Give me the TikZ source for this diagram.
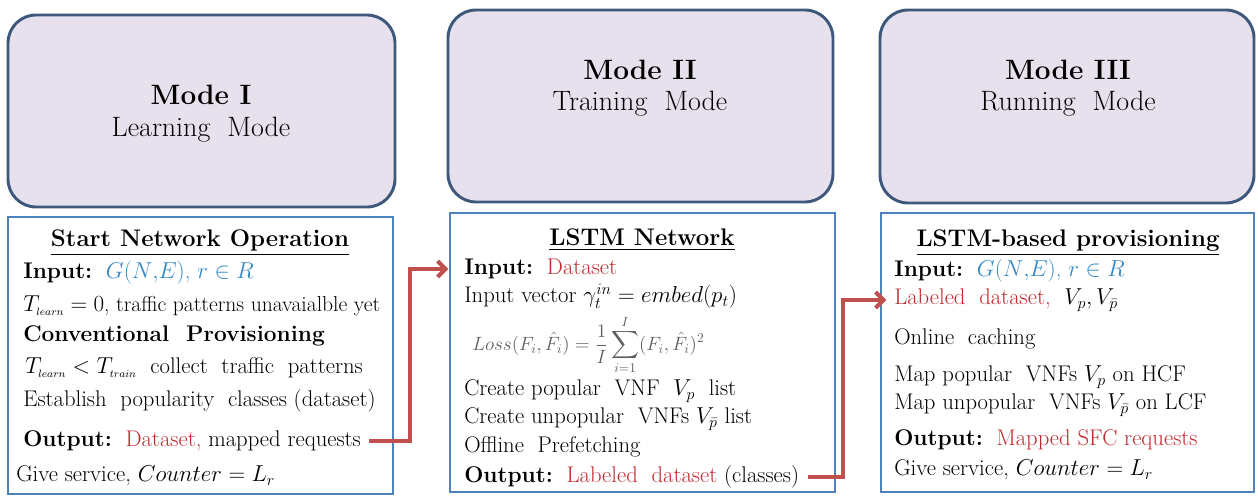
\documentclass[tikz,border=0pt]{standalone}
\usepackage{amsmath}
\usepackage{amssymb}
\usepackage{fontspec}
\usetikzlibrary{arrows.meta}

\definecolor{modefill}{RGB}{230,225,237}
\definecolor{modeline}{RGB}{62,88,124}
\definecolor{boxline}{RGB}{79,129,189}
\definecolor{arrowred}{RGB}{192,80,77}
\definecolor{txtred}{RGB}{192,40,45}
\definecolor{txtblue}{RGB}{52,136,196}
\definecolor{lossgray}{RGB}{95,95,95}

\tikzset{
  modebox/.style={draw=modeline, fill=modefill, line width=2.2pt, rounded corners=21pt},
  stagebox/.style={draw=boxline, line width=2pt},
  txtline/.style={anchor=west, inner sep=0.75pt, font=\fontsize{17}{20}\selectfont},
  heading/.style={inner sep=0.75pt, font=\fontsize{18}{22}\selectfont\bfseries},
  modetitle/.style={inner sep=0.75pt, font=\fontsize{21}{26}\selectfont\bfseries},
  modename/.style={inner sep=0.75pt, font=\fontsize{21}{26}\selectfont},
  feed/.style={draw=arrowred, line width=3pt, -{Straight Barb[length=6pt,width=12pt]}},
}
\newcommand{\tsub}[1]{_{\scriptscriptstyle #1}}

\begin{document}
\begin{tikzpicture}[x=0.75pt,y=0.75pt,yscale=-1,xscale=1]
\useasboundingbox (0,0) rectangle (1258,496);

%Mode boxes
\draw [modebox] (8,15) rectangle (395,207);
\draw [modebox] (448,10) rectangle (833,202);
\draw [modebox] (880,10) rectangle (1254,203);

%Stage boxes
\draw [stagebox] (8,217) rectangle (393,494);
\draw [stagebox] (450,213) rectangle (835,492);
\draw [stagebox] (881,213) rectangle (1254,492);

% Mode I
\draw (201,95) node (modeI) [modetitle] {Mode I};
\draw (201,130) node (learnI) [modename] {Learning\ \ Mode};
% Mode II
\draw (640,70) node (modeII) [modetitle] {Mode II};
\draw (640,104) node (trainII) [modename] {Training\ \ Mode};
% Mode III
\draw (1068,70) node (modeIII) [modetitle] {Mode III};
\draw (1068,104) node (runIII) [modename] {Running\ \ Mode};

% Start Network Operation
\draw (200,243) node (headI) [heading] {\underline{Start Network Operation}};
\draw (22,273) node (inI) [txtline] {\textbf{Input:}\ \ \textcolor{txtblue}{$G(N{,}E)$, $r\in R$}};
\draw (22,306) node (tlI) [txtline, font=\fontsize{16.2}{20}\selectfont] {$T\tsub{learn}=0$, traffic patterns unavaialble yet};
\draw (22,336) node (convI) [txtline] {\textbf{Conventional\ \ Provisioning}};
\draw (24,368) node (ttI) [txtline] {$T\tsub{learn}<T\tsub{train}$\ \ collect\ \ traffic\ \ patterns};
\draw (22,401) node (estI) [txtline] {Establish\ \ popularity\ \ classes (dataset)};
\draw (22,441) node (outI) [txtline] {\textbf{Output:}\ \ \textcolor{txtred}{Dataset,} mapped requests};
\draw (15,476) node (givI) [txtline] {Give service, $Counter=L_r$};

% LSTM Network
\draw (642,240) node (headII) [heading] {\underline{LSTM Network}};
\draw (463,269) node (inII) [txtline] {\textbf{Input:}\ \ \textcolor{txtred}{Dataset}};
\draw (463,296) node (vecII) [txtline] {Input vector $\gamma_t^{in}=embed(p_t)$};
\draw (472,345) node (lossII) [txtline, inner sep=0pt, font=\fontsize{14.5}{16}\selectfont] {\color{lossgray}$Loss(F_i,\hat{F}_i)=\dfrac{1}{I}\displaystyle\sum_{i=1}^{I}(F_i,\hat{F}_i)^2$};
\draw (463,391) node (popII) [txtline] {Create popular\ \ VNF\ \ $V_p$\ \ list};
\draw (463,419) node (unpII) [txtline] {Create unpopular\ \ VNFs $V_{\bar{p}}$ list};
\draw (463,447) node (offII) [txtline] {Offline\ \ Prefetching};
\draw (463,477) node (outII) [txtline] {\textbf{Output:}\ \ \textcolor{txtred}{Labeled\ \ dataset} (classes)};

% LSTM-based provisioning
\draw (1068,243) node (headIII) [heading] {\underline{LSTM-based provisioning}};
\draw (893,271) node (inIII) [txtline] {\textbf{Input:}\ \ \textcolor{txtblue}{$G(N{,}E)$, $r\in R$}};
\draw (893,300) node (lblIII) [txtline] {\textcolor{txtred}{Labeled\ \ dataset,}\ \ $V_p, V_{\bar{p}}$};
\draw (893,339) node (cacheIII) [txtline] {Online\ \ caching};
\draw (893,377) node (popIII) [txtline] {Map popular\ \ VNFs $V_p$\ on HCF};
\draw (893,405) node (unpIII) [txtline] {Map unpopular\ \ VNFs $V_{\bar{p}}$\ on LCF};
\draw (893,440) node (outIII) [txtline] {\textbf{Output:}\ \ \textcolor{txtred}{Mapped SFC requests}};
\draw (893,470) node (givIII) [txtline] {Give service, $Counter=L_r$};

% feeds between stages
\draw [feed] ([xshift=5pt]outI.east) -- (410,441) |- ([xshift=-11pt]inII.west);
\draw [feed] ([xshift=6pt]outII.east) -- (843,477) |- ([xshift=-5pt]lblIII.west);

\end{tikzpicture}
\end{document}
